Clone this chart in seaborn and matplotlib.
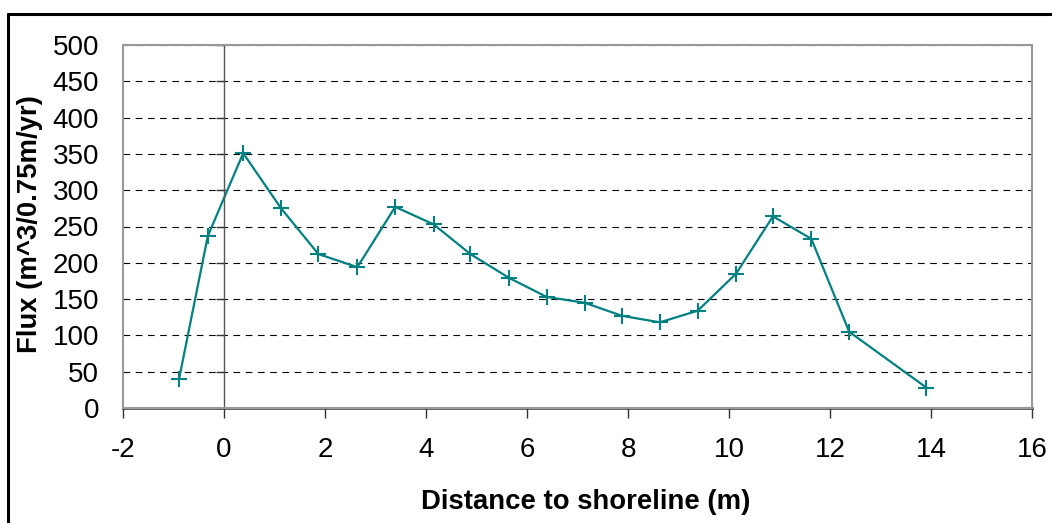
import matplotlib
matplotlib.use("Agg")
import matplotlib.pyplot as plt
import seaborn as sns
from matplotlib.lines import Line2D
from matplotlib.patches import Rectangle

# distance to shoreline (m) and flux (m^3/0.75m/yr)
distance = [-0.89, -0.32, 0.38, 1.13, 1.87, 2.64, 3.39, 4.15, 4.88, 5.65,
            6.39, 7.14, 7.88, 8.63, 9.38, 10.14, 10.87, 11.63, 12.38, 13.91]
flux = [40, 237, 351, 275, 212, 194, 277, 253, 212, 179,
        153, 145, 127, 118, 134, 185, 264, 233, 105, 28]

x_ticks = list(range(-2, 17, 2))
y_ticks = list(range(0, 501, 50))

sns.set_style("white")
plt.rcParams['font.family'] = ['Liberation Sans', 'DejaVu Sans']
plt.rcParams['axes.unicode_minus'] = False
plt.rcParams['text.color'] = 'black'
plt.rcParams['axes.labelcolor'] = 'black'

fig = plt.figure(figsize=(10.52, 5.23), dpi=100)
ax = fig.add_axes([123 / 1052, 1 - 408 / 523, (1032 - 123) / 1052, (408 - 45) / 523])

teal = '#008080'
sns.lineplot(x=distance, y=flux, ax=ax, color=teal, sort=False, linewidth=1.6,
             marker='+', markersize=11, markeredgewidth=1.5, markeredgecolor=teal)

ax.set_xlim(-2, 16)
ax.set_ylim(0, 500)
ax.set_xticks(x_ticks)
ax.set_yticks(y_ticks)

# dashed horizontal gridlines
ax.yaxis.grid(True, linestyle=(0, (6, 5)), color='black', linewidth=0.8)
ax.xaxis.grid(False)
ax.set_axisbelow(True)

# y axis sits at x = 0, labels stay at the left edge
for s in ['top', 'right']:
    ax.spines[s].set_visible(False)
ax.spines['left'].set_position(('data', 0))
ax.spines['left'].set_color('#555555')
ax.spines['left'].set_linewidth(1.0)
ax.spines['bottom'].set_color('#333333')
ax.spines['bottom'].set_linewidth(1.8)

ax.tick_params(axis='y', direction='out', length=6, width=1.0, color='#333333',
               pad=84, labelsize=20, labelcolor='black', left=True)
ax.tick_params(axis='x', direction='out', length=7, width=1.0, color='#333333',
               pad=14, labelsize=20, labelcolor='black', bottom=True)

# grey plot frame
ax.add_patch(Rectangle((0, 0), 1, 1, transform=ax.transAxes, fill=False,
                       edgecolor='#999999', linewidth=1.5, clip_on=False, zorder=3))

ax.set_xlabel('Distance to shoreline (m)', fontsize=19.8, fontweight='bold')
ax.set_ylabel('Flux (m^3/0.75m/yr)', fontsize=19.8, fontweight='bold')
ax.xaxis.set_label_coords(0.509, -0.222)
ax.yaxis.set_label_coords(-0.088, 0.508)

# outer chart border (top and left visible)
fig.add_artist(Line2D([8 / 1052, 1.0], [1 - 14 / 523, 1 - 14 / 523],
                      transform=fig.transFigure, color='black', linewidth=2.2))
fig.add_artist(Line2D([8 / 1052, 8 / 1052], [0.0, 1 - 14 / 523],
                      transform=fig.transFigure, color='black', linewidth=2.2))

fig.savefig('out.png', dpi=100)
